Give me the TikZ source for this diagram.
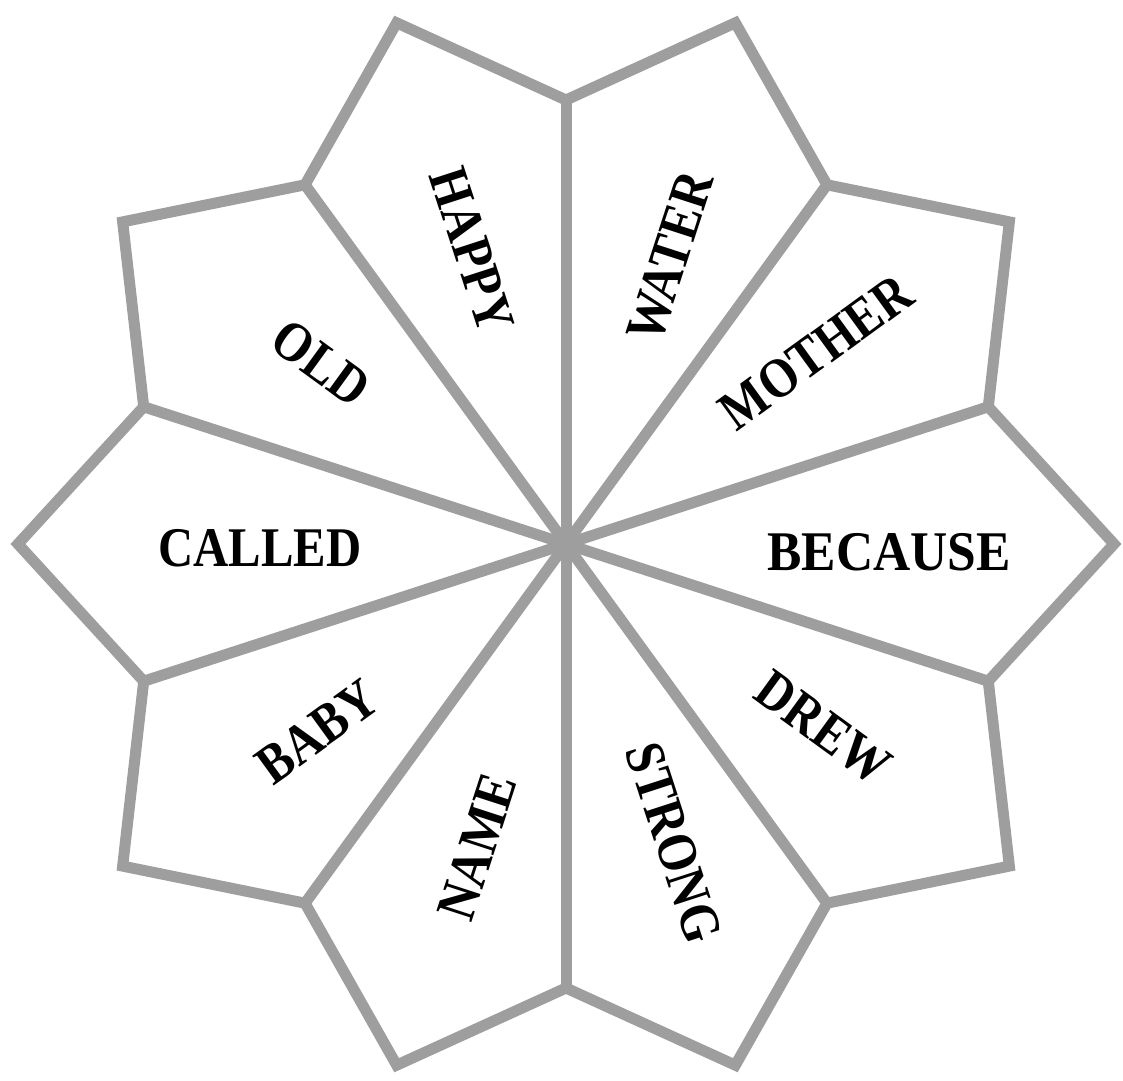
\documentclass[tikz,border=0pt]{standalone}
\usepackage{fontspec}
\setmainfont{Liberation Serif}
\usepackage{graphicx}
\newcommand\petalword[1]{\scalebox{0.87}[1]{#1}}
\begin{document}
\begin{tikzpicture}[x=1pt,y=1pt,
  petal/.style={draw=black!38, line width=11pt, line join=miter},
  spoke/.style={draw=black!38, line width=11pt, line cap=butt},
  word/.style={font=\fontsize{56}{56}\selectfont\bfseries, inner sep=0pt, text=black}]
\useasboundingbox[fill=white] (0,0) rectangle (1123,1080);
\coordinate (C) at (566,536);
\foreach \i in {0,...,9}{
  \path (C) ++({\i*36}:548) coordinate (t\i);
  \path (C) ++({\i*36+18}:444) coordinate (n\i);
}
\foreach \i in {0,...,9} \draw[spoke] (C) -- (n\i);
\draw[petal] (t0) -- (n0) -- (t1) -- (n1) -- (t2) -- (n2) -- (t3) -- (n3) -- (t4) -- (n4)
  -- (t5) -- (n5) -- (t6) -- (n6) -- (t7) -- (n7) -- (t8) -- (n8) -- (t9) -- (n9) -- cycle;
\node[word, rotate=-72] (happy) at (472,830) {\petalword{HAPPY}};
\node[word, rotate=72] (water) at (670,823) {\petalword{WATER}};
\node[word, rotate=36] (mother) at (816,728) {\petalword{MOTHER}};
\node[word] (because) at (889,528) {\scalebox{0.92}[1]{BECAUSE}};
\node[word, rotate=-36] (drew) at (823,352) {\petalword{DREW}};
\node[word, rotate=-72] (strong) at (674,237) {\petalword{STRONG}};
\node[word, rotate=72] (name) at (477,233) {\petalword{NAME}};
\node[word, rotate=36] (baby) at (317,348) {\petalword{BABY}};
\node[word] (called) at (260,532) {\petalword{CALLED}};
\node[word, rotate=-36] (old) at (321,717) {\petalword{OLD}};
\end{tikzpicture}
\end{document}
